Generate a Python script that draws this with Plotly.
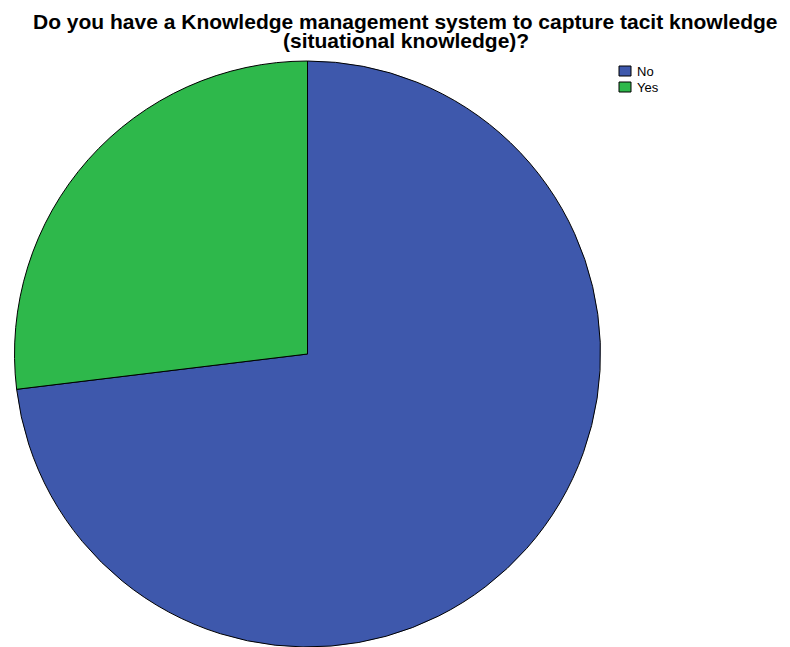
import plotly.graph_objects as go

# Responses to the knowledge-management question
categories = ["No", "Yes"]
counts = [19, 7]
slice_colors = ["#3E58AC", "#2EB84B"]
title_lines = [
    "Do you have a Knowledge management system to capture tacit knowledge",
    "(situational knowledge)?",
]

W, H = 790, 647
cx, cy, r = 307.5, 354, 293  # pie centre (px from left/top) and radius


def px_x(x):
    return x / W


def px_y(y):
    return 1 - y / H


fig = go.Figure(
    go.Pie(
        labels=categories,
        values=counts,
        sort=False,
        direction="clockwise",
        rotation=0,
        textinfo="none",
        showlegend=False,
        marker=dict(colors=slice_colors, line=dict(color="#000000", width=1)),
        domain=dict(
            x=[max(0, px_x(cx - r)), min(1, px_x(cx + r))],
            y=[max(0, px_y(cy + r)), min(1, px_y(cy - r))],
        ),
    )
)

font_family = "Liberation Sans, Arial, sans-serif"

# Two-line bold heading, drawn as separate lines for tight spacing
annotations = []
for i, line in enumerate(title_lines):
    annotations.append(
        dict(
            text=f"<b>{line}</b>",
            x=px_x(406),
            y=px_y(22 + i * 18),
            xref="paper",
            yref="paper",
            xanchor="center",
            yanchor="middle",
            showarrow=False,
            font=dict(size=21, family=font_family, color="#000000"),
        )
    )

# Compact legend: outlined colour swatch with the category name beside it
shapes = []
for i, (name, color) in enumerate(zip(categories, slice_colors)):
    top = 66 + i * 16
    shapes.append(
        dict(
            type="rect",
            xref="paper",
            yref="paper",
            x0=px_x(619),
            x1=px_x(631),
            y0=px_y(top + 10),
            y1=px_y(top),
            fillcolor=color,
            line=dict(color="#000000", width=1),
        )
    )
    annotations.append(
        dict(
            text=name,
            x=px_x(635),
            y=px_y(top + 5.5),
            xref="paper",
            yref="paper",
            xanchor="left",
            yanchor="middle",
            showarrow=False,
            font=dict(size=13, family=font_family, color="#000000"),
        )
    )

fig.update_layout(
    width=W,
    height=H,
    margin=dict(l=0, r=0, t=0, b=0),
    paper_bgcolor="white",
    plot_bgcolor="white",
    font=dict(family=font_family, color="#000000"),
    annotations=annotations,
    shapes=shapes,
)

fig.write_html("out.html")
